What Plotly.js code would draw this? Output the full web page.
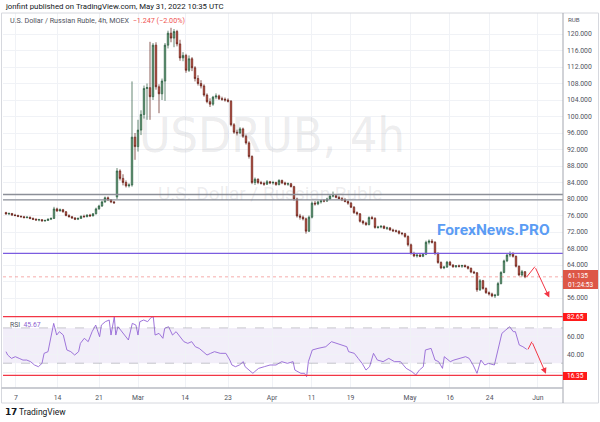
<!DOCTYPE html>
<html>
<head>
<meta charset="utf-8">
<script src="https://cdn.plot.ly/plotly-3.0.1.min.js"></script>
<style>html,body{margin:0;padding:0;background:#fff;}#chart{width:600px;height:422px;}</style>
</head>
<body>
<div id="chart"></div>
<script>
// ---------- DATA (4h candles, bar index positions) ----------
const barOpen = [76.7,76.4,76.5,76.1,76.0,75.8,75.7,75.5,75.6,75.3,75.1,74.9,75.0,74.7,74.8,75.1,75.3,77.6,77.1,77.4,76.9,76.0,75.7,75.4,75.1,75.3,75.8,75.7,76.1,75.9,76.4,77.6,78.3,79.3,80.3,79.8,79.3,80.5,86.8,85.0,84.0,83.2,83.4,95.0,92.7,96.7,100.5,106.8,107.0,104.8,117.3,107.2,105.5,108.6,117.3,120.2,119.0,120.6,117.6,114.2,114.8,111.2,114.0,111.8,109.2,108.0,107.4,105.2,103.6,103.0,104.7,105.0,104.3,104.2,104.0,103.7,98.0,96.2,96.0,97.0,95.2,93.6,90.3,84.0,84.8,84.0,83.8,83.6,84.2,83.9,84.0,83.5,84.5,83.9,83.6,83.7,83.0,80.0,75.9,75.6,75.2,72.2,75.6,79.0,78.8,79.3,79.6,79.5,80.0,80.7,80.8,80.4,80.1,79.8,79.4,79.0,78.0,76.7,76.4,74.6,74.2,73.8,75.5,75.3,73.1,73.2,73.4,72.9,73.0,72.5,72.3,72.2,71.7,71.6,70.9,68.9,66.8,66.2,66.4,66.1,66.6,69.5,69.8,69.5,66.8,64.6,63.3,63.5,64.7,64.0,63.6,63.8,63.7,63.9,63.6,63.2,62.3,62.1,58.0,60.2,58.3,57.3,57.0,56.5,56.7,59.5,62.2,65.0,66.4,66.8,66.1,63.7,61.6,62.38];
const barHigh = [76.9,76.7,76.6,76.4,76.2,76.0,75.9,75.8,75.7,75.5,75.3,75.2,75.1,75.0,75.3,75.5,78.1,77.9,77.7,77.6,77.1,76.3,75.9,75.6,75.5,76.0,76.2,76.3,76.4,76.6,77.9,78.6,79.6,80.6,80.6,80.0,79.5,87.5,87.2,86.0,84.5,83.8,108.5,96.0,99.2,101.5,107.5,108.0,118.1,117.8,118.0,107.8,109.2,117.8,120.8,121.5,121.2,121.0,118.6,115.6,115.2,114.8,114.4,112.2,110.0,108.8,107.8,105.6,104.4,105.0,105.6,105.3,104.8,104.6,104.4,104.0,98.4,96.8,97.4,97.3,95.6,94.0,90.6,85.2,85.0,84.4,84.2,84.6,84.4,84.4,84.2,84.8,84.7,84.2,84.0,83.9,83.2,80.3,76.4,76.0,75.5,76.0,79.4,79.5,79.6,79.8,80.0,80.3,81.0,81.8,81.0,80.8,80.5,80.2,79.7,79.3,78.3,77.0,76.6,74.9,74.5,75.8,75.9,75.6,73.5,73.6,73.6,73.3,73.2,72.8,72.6,72.4,72.0,71.8,71.2,69.2,67.2,66.7,66.8,66.9,69.9,70.2,70.3,69.8,67.1,64.9,63.8,65.0,65.0,64.2,64.0,64.1,64.0,64.1,63.8,63.4,62.6,62.3,60.6,60.4,58.6,57.6,57.3,57.0,59.9,62.5,65.3,66.8,67.3,67.1,66.3,63.9,62.8,62.5];
const barLow = [76.2,76.1,75.9,75.8,75.6,75.5,75.3,75.3,75.1,74.9,74.8,74.6,74.5,74.5,74.7,74.9,75.2,76.9,77.0,76.7,75.8,75.5,75.2,74.9,74.9,75.2,75.5,75.6,75.7,75.8,76.3,77.4,78.1,79.1,79.5,79.0,78.8,80.0,84.5,83.3,82.8,82.8,83.0,89.5,91.5,95.5,99.5,99.2,99.2,104.0,106.5,100.8,104.0,103.8,116.5,118.0,116.8,117.0,113.5,113.4,110.6,110.8,111.0,108.5,107.5,106.8,104.8,103.2,102.3,102.6,104.2,104.0,103.8,103.6,103.4,97.6,95.8,95.4,95.8,94.8,93.2,89.8,83.6,83.4,83.6,83.5,83.2,83.4,83.6,83.5,83.2,83.3,83.6,83.3,83.2,82.8,79.6,75.5,75.0,74.8,71.6,72.0,75.3,78.4,78.5,78.9,79.2,79.3,79.8,80.4,80.2,79.9,79.5,79.2,78.6,77.8,76.4,76.0,74.3,73.8,73.5,73.6,75.0,72.8,72.8,72.9,72.7,72.5,72.3,72.0,71.9,71.4,71.2,70.6,68.5,66.5,65.9,65.8,65.9,65.9,66.4,69.0,69.2,66.4,64.3,63.0,63.0,63.3,63.8,63.3,63.3,63.4,63.3,63.4,62.9,62.0,61.8,57.5,57.7,58.0,57.0,56.6,56.2,56.0,56.5,59.3,62.0,64.7,65.9,65.8,63.4,61.3,61.2,60.8];
const barClose = [76.4,76.5,76.1,76.0,75.8,75.7,75.5,75.6,75.3,75.1,74.9,75.0,74.7,74.8,75.1,75.3,77.6,77.1,77.4,76.9,76.0,75.7,75.4,75.1,75.3,75.8,75.7,76.1,75.9,76.4,77.6,78.3,79.3,80.3,79.8,79.3,79.1,86.8,85.0,84.0,83.2,83.4,95.0,92.7,96.7,100.5,106.8,107.0,104.8,117.3,107.2,105.5,108.6,117.3,120.2,119.0,120.6,117.6,114.2,114.8,111.2,114.0,111.8,109.2,108.0,107.4,105.2,103.6,103.0,104.7,105.0,104.3,104.2,104.0,103.7,98.0,96.2,96.0,97.0,95.2,93.6,90.3,84.0,84.8,84.0,83.8,83.6,84.2,83.9,84.0,83.5,84.5,83.9,83.6,83.7,83.0,80.0,75.9,75.6,75.2,72.2,75.6,79.0,78.8,79.3,79.6,79.5,80.0,80.7,80.8,80.4,80.1,79.8,79.4,79.0,78.0,76.7,76.4,74.6,74.2,73.8,75.5,75.3,73.1,73.2,73.4,72.9,73.0,72.5,72.3,72.2,71.7,71.6,70.9,68.9,66.8,66.2,66.4,66.1,66.6,69.5,69.8,69.5,66.8,64.6,63.3,63.5,64.7,64.0,63.6,63.8,63.7,63.9,63.6,63.2,62.3,62.1,58.0,60.2,58.3,57.3,57.0,56.5,56.7,59.5,62.2,65.0,66.4,66.8,66.1,63.7,61.6,62.38,61.135];

// RSI(14) (x in bar-index units)
const rsiX = [0,0.55,1.83,3.1,4.4,5.66,6.9,8.2,9.5,10.8,12.0,12.7,14.0,15.2,15.9,16.9,17.8,19.1,20.3,21.6,22.9,24.2,24.8,26.1,27.4,28.7,29.9,31.2,31.8,33.1,34.4,35.0,36.1,36.6,37.3,38.2,39.5,40.8,42.1,43.3,44.0,44.6,45.9,47.2,48.4,49.1,49.7,51.0,52.3,52.9,54.2,55.5,56.7,58.0,59.3,60.6,61.9,63.1,64.4,65.7,67.0,68.2,69.5,71.4,73.3,74.6,75.3,76.5,77.8,79.1,79.7,81.0,82.3,82.9,84.2,86.1,88.0,90.0,91.9,93.8,95.7,96.3,98.3,99.5,100.2,100.8,102.1,104.0,106.6,108.5,110.4,112.3,113.6,114.2,116.1,117.4,118.7,120.0,121.2,122.5,123.8,125.7,127.6,129.5,131.5,133.4,135.3,136.6,137.8,139.1,139.8,141.7,143.0,144.2,145.5,146.1,148.1,149.3,151.3,153.2,154.4,155.7,157.0,158.3,159.6,160.8,162.8,164.0,165.3,166.6,167.9,169.1,169.8,171.1,172.3,173.6];
const rsiY = [43.1,39.3,35.5,37.4,35.5,33.6,33.6,31.8,28,26.1,29.9,41.2,43.1,63.8,75.1,61.9,65.7,61.9,45,43.1,39.3,43.1,52.5,58.2,54.4,65.7,73.2,60,73.2,77,78.9,61.9,82.6,61.9,71.3,67.6,61.9,56.3,75.1,73.2,61.9,77,78.9,77,81.9,82.6,61.9,63.8,58.2,69.5,71.3,61.9,65.7,60,54.4,52.5,54.4,48.7,46.8,43.1,39.3,41.2,43.1,41.2,41.2,33.6,28,26.1,28,31.8,26.1,22.3,18.6,20.5,24.2,26.1,28,28,31.8,29.9,31.8,22.3,18.6,18.6,14.8,31.8,45,46.8,48.7,54.4,52.5,50.6,48.7,43.1,41.2,35.5,29.9,22.3,26.1,41.2,33.6,31.8,35.5,31.8,31.8,24.2,20.5,16.7,22.3,26.1,45,46.8,33.6,31.8,24.2,37.4,31.8,33.6,35.5,37.4,35.5,28,18.6,33.6,28,29.9,28,46.8,63.8,67.6,71.3,65.7,65.7,50.6,48.7,45.67];

// Date axis labels (bar-index positions)
const dateTickPos = [3.33,17.17,31,44,59.67,74,88.67,101.83,114.87,134.67,148,161.23,177.33];
const dateTickText = ['7','14','21','Mar','14','23','Apr','11','19','May','16','24','Jun'];

// Drawn levels / annotations
const zoneLevels = [81.1, 79.8];      // grey double line
const purpleLevel = 66.8;             // purple horizontal line
const lastPrice = 61.135;
const rsiMax = 82.65, rsiMin = 16.35, rsiLast = 45.67;
const priceArrowX = [173.6, 176.3, 181.1], priceArrowY = [61.13, 63.6, 56.1];
const rsiArrowX = [174.0, 175.3, 180.0], rsiArrowY = [45.7, 54.4, 18.0];

// ---------- LAYOUT ----------
const px = x => (x - 3) / 560;
const py = y => (388 - y) / 375;
const N = barClose.length;
const idx = Array.from({length: N}, (_, i) => i);
const priceTicks = []; for (let v = 56; v <= 120; v += 4) priceTicks.push(v);
const priceTickText = priceTicks.map(v => v === 60 ? '' : v.toFixed(3));
const grid = '#f0f2f6';
const axFont = {family: 'Roboto, "Liberation Sans", Arial, sans-serif', size: 6.8, color: '#50535e'};

const candles = {
  type: 'candlestick', x: idx, open: barOpen, high: barHigh, low: barLow, close: barClose,
  xaxis: 'x', yaxis: 'y',
  increasing: {fillcolor: '#6ba583', line: {color: '#225437', width: 0.7}},
  decreasing: {fillcolor: '#d75442', line: {color: '#5b1a13', width: 0.7}},
  hoverinfo: 'skip'
};
const rsi = {
  type: 'scatter', mode: 'lines', x: rsiX, y: rsiY, xaxis: 'x2', yaxis: 'y2',
  line: {color: '#9466d6', width: 0.9}, hoverinfo: 'skip'
};

const red = '#f23645';
const shapes = [
  // RSI band
  {type: 'rect', xref: 'paper', yref: 'y2', x0: 0, x1: 1, y0: 30, y1: 70, fillcolor: 'rgba(126,87,194,0.10)', line: {width: 0}, layer: 'below'},
  {type: 'line', xref: 'paper', yref: 'y2', x0: 0, x1: 1, y0: 70, y1: 70, line: {color: 'rgba(120,123,134,0.5)', width: 0.8, dash: 'dash'}},
  {type: 'line', xref: 'paper', yref: 'y2', x0: 0, x1: 1, y0: 30, y1: 30, line: {color: 'rgba(120,123,134,0.5)', width: 0.8, dash: 'dash'}},
  {type: 'line', xref: 'paper', yref: 'y2', x0: 0, x1: 1, y0: rsiMax, y1: rsiMax, line: {color: red, width: 1.2}},
  {type: 'line', xref: 'paper', yref: 'y2', x0: 0, x1: 1, y0: rsiMin, y1: rsiMin, line: {color: red, width: 1.2}},
  // price levels
  {type: 'line', xref: 'paper', yref: 'y', x0: 0, x1: 1, y0: zoneLevels[0], y1: zoneLevels[0], line: {color: '#8c8f98', width: 1.4}},
  {type: 'line', xref: 'paper', yref: 'y', x0: 0, x1: 1, y0: zoneLevels[1], y1: zoneLevels[1], line: {color: '#8c8f98', width: 1.4}},
  {type: 'line', xref: 'paper', yref: 'y', x0: 0, x1: 1, y0: purpleLevel, y1: purpleLevel, line: {color: '#7b5ce0', width: 1.3}},
  {type: 'line', xref: 'paper', yref: 'y', x0: 0, x1: 1, y0: lastPrice, y1: lastPrice, line: {color: 'rgba(239,83,80,0.6)', width: 0.8, dash: 'dot'}},
  // arrows (first legs)
  {type: 'line', xref: 'x', yref: 'y', x0: priceArrowX[0], y0: priceArrowY[0], x1: priceArrowX[1], y1: priceArrowY[1], line: {color: red, width: 1}},
  {type: 'line', xref: 'x2', yref: 'y2', x0: rsiArrowX[0], y0: rsiArrowY[0], x1: rsiArrowX[1], y1: rsiArrowY[1], line: {color: red, width: 1}},
  // frame
  {type: 'rect', xref: 'paper', yref: 'paper', x0: px(1.5), x1: px(598.5), y0: py(403), y1: py(13), line: {color: '#d6d8de', width: 1}},
  {type: 'line', xref: 'paper', yref: 'paper', x0: 1, x1: 1, y0: py(403), y1: py(13), line: {color: '#a3a6af', width: 1}},
  {type: 'line', xref: 'paper', yref: 'paper', x0: px(1.5), x1: 1, y0: 0, y1: 0, line: {color: '#b8bbc3', width: 1.5}},
  // price / RSI labels
  {type: 'rect', xref: 'paper', yref: 'paper', x0: px(563), x1: px(598), y0: py(289), y1: py(270), fillcolor: '#dd5747', line: {width: 0}},
  {type: 'rect', xref: 'paper', yref: 'paper', x0: px(563), x1: px(587), y0: py(321), y1: py(313), fillcolor: '#ff1a1a', line: {width: 0}},
  {type: 'rect', xref: 'paper', yref: 'paper', x0: px(563), x1: px(587), y0: py(380), y1: py(372), fillcolor: '#ff1a1a', line: {width: 0}}
];

const F = 'Roboto, "Liberation Sans", Arial, sans-serif';
const ann = (o) => Object.assign({xref: 'paper', yref: 'paper', showarrow: false, xanchor: 'left', yanchor: 'middle'}, o);
const annotations = [
  ann({x: px(3), y: py(6), text: 'jonfint published on TradingView.com, May 31, 2022 10:35 UTC', font: {family: F, size: 7.8, color: '#131722'}}),
  ann({x: px(8), y: py(20.5), text: 'U.S. Dollar / Russian Ruble, 4h, MOEX  <span style="color:#ef5350">−1.247 (−2.00%)</span>', font: {family: F, size: 7.2, color: '#50535e'}}),
  ann({x: px(566), y: py(20), text: 'RUB', font: {family: F, size: 6.2, color: '#50535e'}}),
  ann({x: px(272), y: py(135), xanchor: 'center', text: 'USDRUB, 4h', font: {family: '"Liberation Sans Narrow", "DejaVu Sans Condensed", Roboto, sans-serif', size: 48, color: 'rgba(120,123,134,0.15)'}}),
  ann({x: px(270), y: py(193), xanchor: 'center', text: 'U.S. Dollar / Russian Ruble', font: {family: F, size: 19, color: 'rgba(120,123,134,0.15)'}}),
  ann({x: px(493), y: py(230), xanchor: 'center', text: '<b>ForexNews.PRO</b>', font: {family: '"Liberation Sans Narrow", Roboto, sans-serif', size: 15.5, color: '#5b9cf4'}}),
  ann({x: px(566), y: py(275.5), text: lastPrice.toFixed(3), font: {family: F, size: 6.5, color: '#ffffff'}}),
  ann({x: px(566), y: py(284.5), text: '01:24:53', font: {family: F, size: 6.5, color: '#ffffff'}}),
  ann({x: px(565), y: py(317), text: rsiMax.toFixed(2), font: {family: F, size: 6.5, color: '#ffffff'}}),
  ann({x: px(565), y: py(376), text: rsiMin.toFixed(2), font: {family: F, size: 6.5, color: '#ffffff'}}),
  ann({x: px(8), y: py(325), text: 'RSI  <span style="color:#8e5fd0">' + rsiLast.toFixed(2) + '</span>', font: {family: F, size: 6.8, color: '#50535e'}}),
  ann({x: px(3), y: py(412), text: '<b>𝟭𝟳</b> TradingView', font: {family: F, size: 8.5, color: '#131722'}}),
  // arrowheads
  {xref: 'x', yref: 'y', axref: 'x', ayref: 'y', x: priceArrowX[2], y: priceArrowY[2], ax: priceArrowX[1], ay: priceArrowY[1], text: '', showarrow: true, arrowhead: 2, arrowsize: 1.2, arrowwidth: 1, arrowcolor: red, standoff: 0, startstandoff: 0},
  {xref: 'x2', yref: 'y2', axref: 'x2', ayref: 'y2', x: rsiArrowX[2], y: rsiArrowY[2], ax: rsiArrowX[1], ay: rsiArrowY[1], text: '', showarrow: true, arrowhead: 2, arrowsize: 1.2, arrowwidth: 1, arrowcolor: red, standoff: 0, startstandoff: 0}
];

const layout = {
  width: 600, height: 422,
  margin: {l: 3, r: 37, t: 13, b: 34, pad: 0},
  paper_bgcolor: '#ffffff', plot_bgcolor: '#ffffff',
  showlegend: false, hovermode: false,
  font: {family: F},
  xaxis: {domain: [0, 1], anchor: 'y', range: [-1, 185.67], tickvals: dateTickPos, showticklabels: false, showgrid: true, gridcolor: grid, gridwidth: 1, zeroline: false, showline: false, ticks: '', rangeslider: {visible: false}, fixedrange: true},
  xaxis2: {domain: [0, 1], anchor: 'y2', matches: 'x', range: [-1, 185.67], tickvals: dateTickPos, ticktext: dateTickText, showgrid: true, gridcolor: grid, zeroline: false, showline: false, ticks: '', tickfont: axFont, ticklabelstandoff: 4, fixedrange: true},
  yaxis: {domain: [0.192, 1], anchor: 'x', side: 'right', range: [51.64, 125.09], tickvals: priceTicks, ticktext: priceTickText, showgrid: true, gridcolor: grid, zeroline: false, showline: false, ticks: '', tickfont: axFont, ticklabelstandoff: 3, fixedrange: true},
  yaxis2: {domain: [0, 0.192], anchor: 'x2', side: 'right', range: [1.99, 83.44], tickvals: [20, 40, 60], ticktext: ['', '40.00', '60.00'], showgrid: true, gridcolor: grid, zeroline: false, showline: false, ticks: '', tickfont: axFont, ticklabelstandoff: 3, fixedrange: true},
  shapes: shapes,
  annotations: annotations
};

Plotly.newPlot('chart', [candles, rsi], layout, {staticPlot: true, displayModeBar: false});
</script>
</body>
</html>
